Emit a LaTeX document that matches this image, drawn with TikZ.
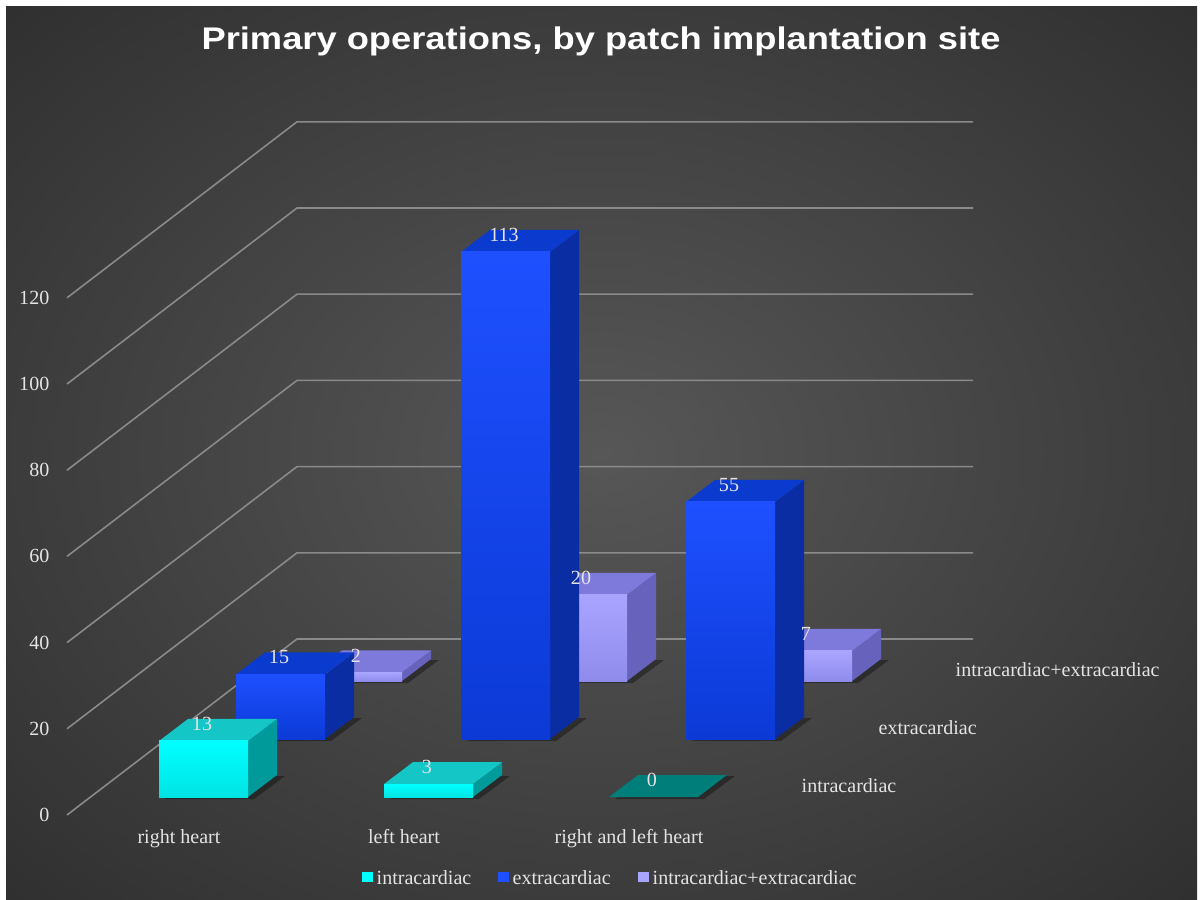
\documentclass[tikz,border=0pt]{standalone}
\usepackage{fontspec}
\setmainfont{Liberation Serif}
\newfontfamily\headfont{Liberation Sans}[FakeStretch=1.16]
\usetikzlibrary{calc}
\definecolor{bgin}{HTML}{575757}
\definecolor{bgout}{HTML}{242424}
\definecolor{gridc}{HTML}{8A8A8A}
\definecolor{labc}{HTML}{E4E4E4}
% front (top/bottom), top face, side face of each series
\definecolor{cyanA}{HTML}{00FFFF}
\definecolor{cyanB}{HTML}{00E4E4}
\definecolor{cyanT}{HTML}{14C6C6}
\definecolor{cyanS}{HTML}{009A9A}
\definecolor{cyanZ}{HTML}{007E7A}
\definecolor{blueA}{HTML}{1E50FF}
\definecolor{blueB}{HTML}{0B3AD6}
\definecolor{blueT}{HTML}{0A3BCE}
\definecolor{blueS}{HTML}{0A2DA3}
\definecolor{lavA}{HTML}{A9A5FF}
\definecolor{lavB}{HTML}{8F8BEB}
\definecolor{lavT}{HTML}{7E7ADB}
\definecolor{lavS}{HTML}{6763BD}
\pgfdeclareradialshading{bgglow}{\pgfpoint{0bp}{0bp}}{color(0bp)=(bgin); color(46bp)=(bgout); color(50bp)=(bgout)}
\tikzset{
  gridln/.style={gridc,line width=0.45pt},
  ticklab/.style={font=\fontsize{5.7}{6.5}\selectfont,text=labc,inner sep=0pt},
  legkey/.style={inner sep=0pt,minimum width=0.11cm,minimum height=0.1cm,anchor=south west}
}
% one 3d column: x, y of front bottom left corner, value, series
\newcommand{\colbar}[4]{%
  \pgfmathsetmacro\ytop{#2-4.31*#3}
  \fill[black,opacity=.35] (#1+6,#2+2) -- (#1+95,#2+2) -- (#1+126,#2-21) -- (#1+37,#2-21) -- cycle;
  \fill[#4S] (#1+89,#2) -- (#1+89,\ytop) -- (#1+118,\ytop-22) -- (#1+118,#2-22) -- cycle;
  \fill[#4T] (#1,\ytop) -- (#1+89,\ytop) -- (#1+118,\ytop-22) -- (#1+29,\ytop-22) -- cycle;
  \shade[top color=#4A,bottom color=#4B] (#1,\ytop) rectangle (#1+89,#2);
}

\begin{document}
\begin{tikzpicture}[x=0.01cm,y=-0.01cm]
\useasboundingbox (0,0) rectangle (1200,900);
\fill[white] (0,0) rectangle (1200,900);
\shade[shading=bgglow] (6,6) rectangle (1197,900);

\node[font=\headfont\bfseries\fontsize{8.9}{10}\selectfont,text=white,anchor=base] (title) at (601,49) {Primary operations, by patch implantation site};

% walls
\foreach \v in {0,20,...,120}{
  \draw[gridln] (67,815-4.31*\v) -- (297,639-4.31*\v) -- (973,639-4.31*\v);
  \node[ticklab,anchor=east] (y\v) at (50,815-4.31*\v) {\v};
}

% back row first
\colbar{313}{681}{2}{lav}
\colbar{538}{681}{20}{lav}
\colbar{763}{681}{7}{lav}
\colbar{236}{739}{15}{blue}
\colbar{461}{739}{113}{blue}
\colbar{686}{739}{55}{blue}
\colbar{159}{797}{13}{cyan}
\colbar{384}{797}{3}{cyan}
% zero column is only its lid
\fill[black,opacity=.35] (615,799) -- (704,799) -- (735,776) -- (646,776) -- cycle;
\fill[cyanZ] (609,797) -- (698,797) -- (727,775) -- (638,775) -- cycle;

% values on top of everything
\foreach \x/\y/\v in {313/681/2,538/681/20,763/681/7,236/739/15,461/739/113,686/739/55,159/797/13,384/797/3,609/797/0}
  \node[ticklab] (v\v) at (\x+43,\y-4.31*\v-17) {\v};

% category and series names
\node[ticklab,anchor=base] (catr) at (179,843) {right heart};
\node[ticklab,anchor=base] (catl) at (404,843) {left heart};
\node[ticklab,anchor=base] (catrl) at (629,843) {right and left heart};
\node[ticklab,anchor=base west] (ser1) at (801,792) {intracardiac};
\node[ticklab,anchor=base west] (ser2) at (878,734) {extracardiac};
\node[ticklab,anchor=base west] (ser3) at (955,676) {intracardiac+extracardiac};

% legend
\node[legkey,fill=cyanA] (k1) at (361,883) {};
\node[ticklab,anchor=base west] (l1) at (376,884) {intracardiac};
\node[legkey,fill=blueA] (k2) at (497,883) {};
\node[ticklab,anchor=base west] (l2) at (512,884) {extracardiac};
\node[legkey,fill=lavA] (k3) at (637,883) {};
\node[ticklab,anchor=base west] (l3) at (652,884) {intracardiac+extracardiac};
\end{tikzpicture}
\end{document}
